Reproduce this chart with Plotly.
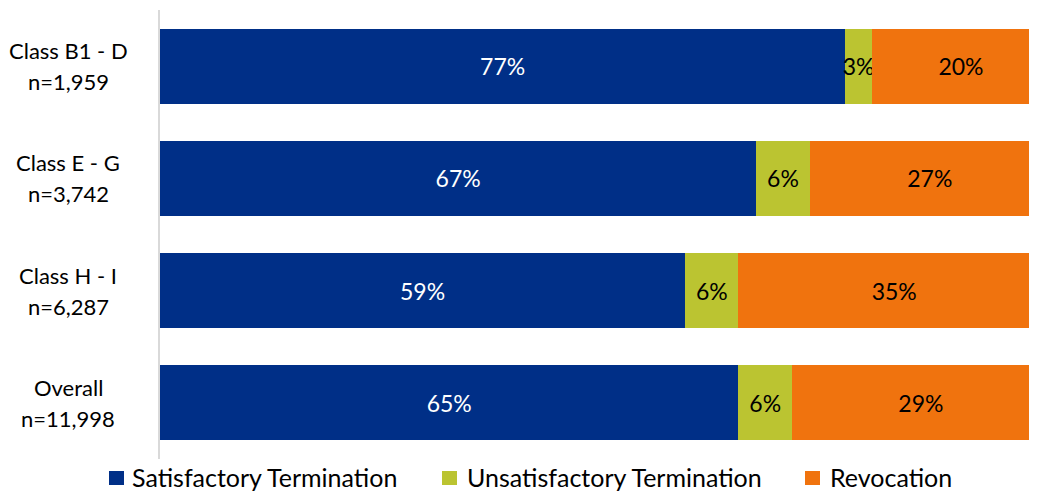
import plotly.graph_objects as go

categories = ["Class B1 - D", "Class E - G", "Class H - I", "Overall"]
counts = ["n=1,959", "n=3,742", "n=6,287", "n=11,998"]
series_names = ["Satisfactory Termination", "Unsatisfactory Termination", "Revocation"]
satisfactory = [77, 67, 59, 65]
unsatisfactory = [3, 6, 6, 6]
revocation = [20, 27, 35, 29]
colors = ["#002F87", "#BBC431", "#F0730E"]
text_colors = ["white", "black", "black"]

FONT = "Lato"
ML, MR, MT, MB = 152, 9, 2, 44
W, H = 1037, 495
PW, PH = W - ML - MR, H - MT - MB


def px2paper(fx, fy):
    return (fx - ML) / PW, (H - MB - fy) / PH


fig = go.Figure()
for name, vals, col, tc in zip(series_names, [satisfactory, unsatisfactory, revocation], colors, text_colors):
    fig.add_trace(go.Bar(
        y=categories, x=vals, name=name, orientation="h",
        marker=dict(color=col, line=dict(width=0)),
        text=[f"{v}%" for v in vals],
        textposition="inside", insidetextanchor="middle", textangle=0,
        constraintext="none",
        textfont=dict(family=FONT, size=23, color=tc),
        showlegend=False,
    ))

for cat, n in zip(categories, counts):
    fig.add_annotation(x=-0.105, xref="paper", y=cat, yref="y", text=cat, showarrow=False,
                       xanchor="center", yanchor="middle", yshift=15.5,
                       font=dict(family=FONT, size=22, color="black"))
    fig.add_annotation(x=-0.105, xref="paper", y=cat, yref="y", text=n, showarrow=False,
                       xanchor="center", yanchor="middle", yshift=-15.5,
                       font=dict(family=FONT, size=22, color="black"))

# legend (drawn manually so item spacing matches)
legend_square_x = [101, 434, 797]
legend_text_x = [122, 457, 820]
sq_top, sq_bot, txt_y = 463, 477, 469
for name, col, sx, tx in zip(series_names, colors, legend_square_x, legend_text_x):
    x0, y0 = px2paper(sx, sq_bot)
    x1, y1 = px2paper(sx + 15, sq_top)
    fig.add_shape(type="rect", xref="paper", yref="paper", x0=x0, x1=x1, y0=y0, y1=y1,
                  fillcolor=col, line=dict(width=0))
    ax, ay = px2paper(tx, txt_y)
    fig.add_annotation(x=ax, y=ay, xref="paper", yref="paper", text=name, showarrow=False,
                       xanchor="left", yanchor="middle",
                       font=dict(family=FONT, size=25, color="black"))

fig.update_layout(
    barmode="stack", bargap=0.332,
    width=W, height=H,
    margin=dict(l=ML, r=MR, t=MT, b=MB, pad=0, autoexpand=False),
    plot_bgcolor="white", paper_bgcolor="white",
    xaxis=dict(range=[0, 98.43], visible=False, fixedrange=True),
    yaxis=dict(autorange="reversed", showticklabels=False, showline=True,
               linecolor="#D9D9D9", linewidth=2, ticks="", showgrid=False),
    showlegend=False,
)

fig.write_html("out.html")
